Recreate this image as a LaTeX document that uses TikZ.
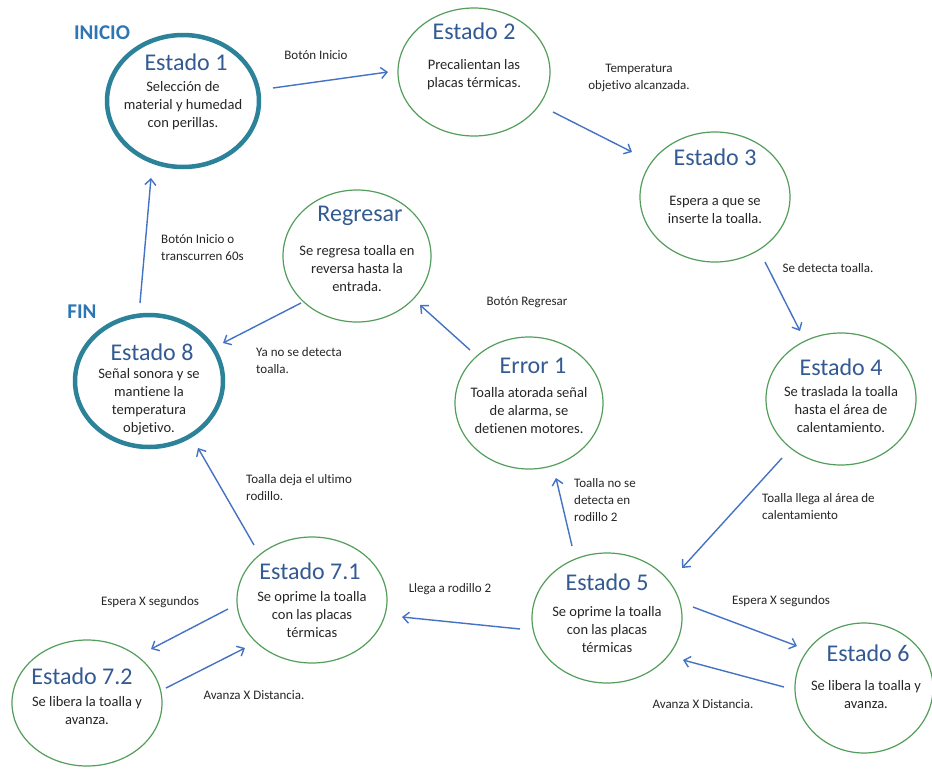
\documentclass[tikz,border=0pt]{standalone}
\usepackage{fontspec}
\setmainfont{Carlito}[Ligatures=NoCommon]
\usetikzlibrary{shapes.geometric,arrows.meta}
\definecolor{ttl}{HTML}{335A92}
\definecolor{txt}{HTML}{262626}
\definecolor{arrc}{HTML}{4472C4}
\definecolor{stgreen}{HTML}{549E5B}
\definecolor{tealc}{HTML}{2C8299}
\definecolor{tagc}{HTML}{2E75B6}
\begin{document}
\begin{tikzpicture}[x=1pt,y=-1pt,
  state/.style={ellipse, draw=stgreen, line width=1.2pt, inner sep=0pt,
                minimum width=150pt, minimum height=130pt},
  endstate/.style={state, draw=tealc, line width=4.5pt},
  ttlbox/.style={font=\fontsize{24}{29}\selectfont, text=ttl, inner sep=0pt},
  bodybox/.style={font=\fontsize{14.5}{18}\selectfont, text=txt, inner sep=0pt, align=center},
  lbl/.style={font=\fontsize{13}{17}\selectfont, text=txt, inner sep=0pt, align=center},
  lbll/.style={lbl, align=left},
  tagbox/.style={font=\fontsize{21}{25}\selectfont\bfseries, text=tagc, inner sep=0pt},
  arr/.style={draw=arrc, line width=1.4pt, -{Straight Barb[length=6pt,width=11pt]}}]
\useasboundingbox[fill=white] (0,0) rectangle (932,769);

% states
\node[endstate, minimum width=152pt, minimum height=132pt] (e1) at (183,101) {};
\node[state, minimum width=152pt, minimum height=128pt] (e2) at (474,72) {};
\node[state, minimum width=150pt, minimum height=130pt] (e3) at (715,197) {};
\node[state, minimum width=150pt, minimum height=132pt] (e4) at (841,399) {};
\node[state, minimum width=150pt, minimum height=130pt] (e5) at (607,618) {};
\node[state, minimum width=138pt, minimum height=130pt] (e6) at (864,688) {};
\node[state, minimum width=150pt, minimum height=126pt] (e71) at (312,600) {};
\node[state, minimum width=150pt, minimum height=126pt] (e72) at (87,703) {};
\node[endstate, minimum width=148pt, minimum height=132pt] (e8) at (149,381) {};
\node[state, minimum width=148pt, minimum height=132pt] (rg) at (357,256) {};
\node[state, minimum width=148pt, minimum height=132pt] (er) at (529,403) {};

% titles and bodies
\node[ttlbox] (e1t) at ([shift={(3,-39)}]e1.center) {Estado 1};
\node[bodybox] (e1b) at ([shift={(0,5)}]e1.center) {Selección de\\material y humedad\\con perillas.};
\node[ttlbox] (e2t) at ([shift={(0,-41)}]e2.center) {Estado 2};
\node[bodybox] (e2b) at ([shift={(0,3)}]e2.center) {Precalientan las\\placas térmicas.};
\node[ttlbox] (e3t) at ([shift={(0,-40)}]e3.center) {Estado 3};
\node[bodybox] (e3b) at ([shift={(0,13)}]e3.center) {Espera a que se\\inserte la toalla.};
\node[ttlbox] (e4t) at ([shift={(0,-32)}]e4.center) {Estado 4};
\node[bodybox] (e4b) at ([shift={(0,11)}]e4.center) {Se traslada la toalla\\hasta el área de\\calentamiento.};
\node[ttlbox] (e5t) at ([shift={(0,-36)}]e5.center) {Estado 5};
\node[bodybox] (e5b) at ([shift={(0,12)}]e5.center) {Se oprime la toalla\\con las placas\\térmicas};
\node[ttlbox] (e6t) at ([shift={(4,-35)}]e6.center) {Estado 6};
\node[bodybox] (e6b) at ([shift={(2,7)}]e6.center) {Se libera la toalla y\\avanza.};
\node[ttlbox] (e71t) at ([shift={(-2,-29)}]e71.center) {Estado 7.1};
\node[bodybox] (e71b) at ([shift={(0,15)}]e71.center) {Se oprime la toalla\\con las placas\\térmicas};
\node[ttlbox] (e72t) at ([shift={(-5,-27)}]e72.center) {Estado 7.2};
\node[bodybox] (e72b) at ([shift={(0,8)}]e72.center) {Se libera la toalla y\\avanza.};
\node[ttlbox] (e8t) at ([shift={(3,-29)}]e8.center) {Estado 8};
\node[bodybox] (e8b) at ([shift={(0,21)}]e8.center) {Señal sonora y se\\mantiene la\\temperatura\\objetivo.};
\node[ttlbox] (rgt) at ([shift={(3,-40)}]rg.center) {Regresar};
\node[bodybox] (rgb) at ([shift={(0,13)}]rg.center) {Se regresa toalla en\\reversa hasta la\\entrada.};
\node[ttlbox] (ert) at ([shift={(4,-37)}]er.center) {Error 1};
\node[bodybox] (erb) at ([shift={(0,8)}]er.center) {Toalla atorada señal\\de alarma, se\\detienen motores.};

% tags
\node[tagbox] (inicio) at (102,33) {INICIO};
\node[tagbox] (fin) at (82,312) {FIN};

% connectors
\draw[arr] ([shift={(90,-13)}]e1.center) -- ([shift={(-86,0)}]e2.center);
\draw[arr] ([shift={(79,40)}]e2.center) -- ([shift={(-83,-45)}]e3.center);
\draw[arr] ([shift={(50,65)}]e3.center) -- ([shift={(-41,-68)}]e4.center);
\draw[arr] ([shift={(-59,59)}]e4.center) -- ([shift={(75,-50)}]e5.center);
\draw[arr] ([shift={(86,-11)}]e5.center) -- ([shift={(-67,-42)}]e6.center);
\draw[arr] ([shift={(-80,-1)}]e6.center) -- ([shift={(76,42)}]e5.center);
\draw[arr] ([shift={(-87,11)}]e5.center) -- ([shift={(90,17)}]e71.center);
\draw[arr] ([shift={(-35,-72)}]e5.center) -- ([shift={(27,75)}]er.center);
\draw[arr] ([shift={(-59,-53)}]er.center) -- ([shift={(63,49)}]rg.center);
\draw[arr] ([shift={(-56,47)}]rg.center) -- ([shift={(74,-38)}]e8.center);
\draw[arr] ([shift={(-58,-55)}]e71.center) -- ([shift={(49,67)}]e8.center);
\draw[arr] ([shift={(-9,-78)}]e8.center) -- ([shift={(-32,77)}]e1.center);
\draw[arr] ([shift={(-84,9)}]e71.center) -- ([shift={(64,-54)}]e72.center);
\draw[arr] ([shift={(79,-15)}]e72.center) -- ([shift={(-67,48)}]e71.center);

% connector labels
\node[lbl] (l1) at (316,55) {Botón Inicio};
\node[lbl] (l2) at (639,78) {Temperatura\\objetivo alcanzada.};
\node[lbl] (l3) at (828,268) {Se detecta toalla.};
\node[lbll, anchor=west] (l4) at (762,507) {Toalla llega al área de\\calentamiento};
\node[lbl] (l5) at (781,601) {Espera X segundos};
\node[lbl] (l6) at (703,704) {Avanza X Distancia.};
\node[lbl] (l7) at (450,589) {Llega a rodillo 2};
\node[lbll, anchor=west] (l8) at (574,500) {Toalla no se\\detecta en\\rodillo 2};
\node[lbl] (l9) at (527,302) {Botón Regresar};
\node[lbll, anchor=west] (l10) at (256,361) {Ya no se detecta\\toalla.};
\node[lbll, anchor=west] (l11) at (246,488) {Toalla deja el ultimo\\rodillo.};
\node[lbll, anchor=west] (l12) at (161,248) {Botón Inicio o\\transcurren 60s};
\node[lbl] (l13) at (150,602) {Espera X segundos};
\node[lbl] (l14) at (254,695) {Avanza X Distancia.};
\end{tikzpicture}
\end{document}
